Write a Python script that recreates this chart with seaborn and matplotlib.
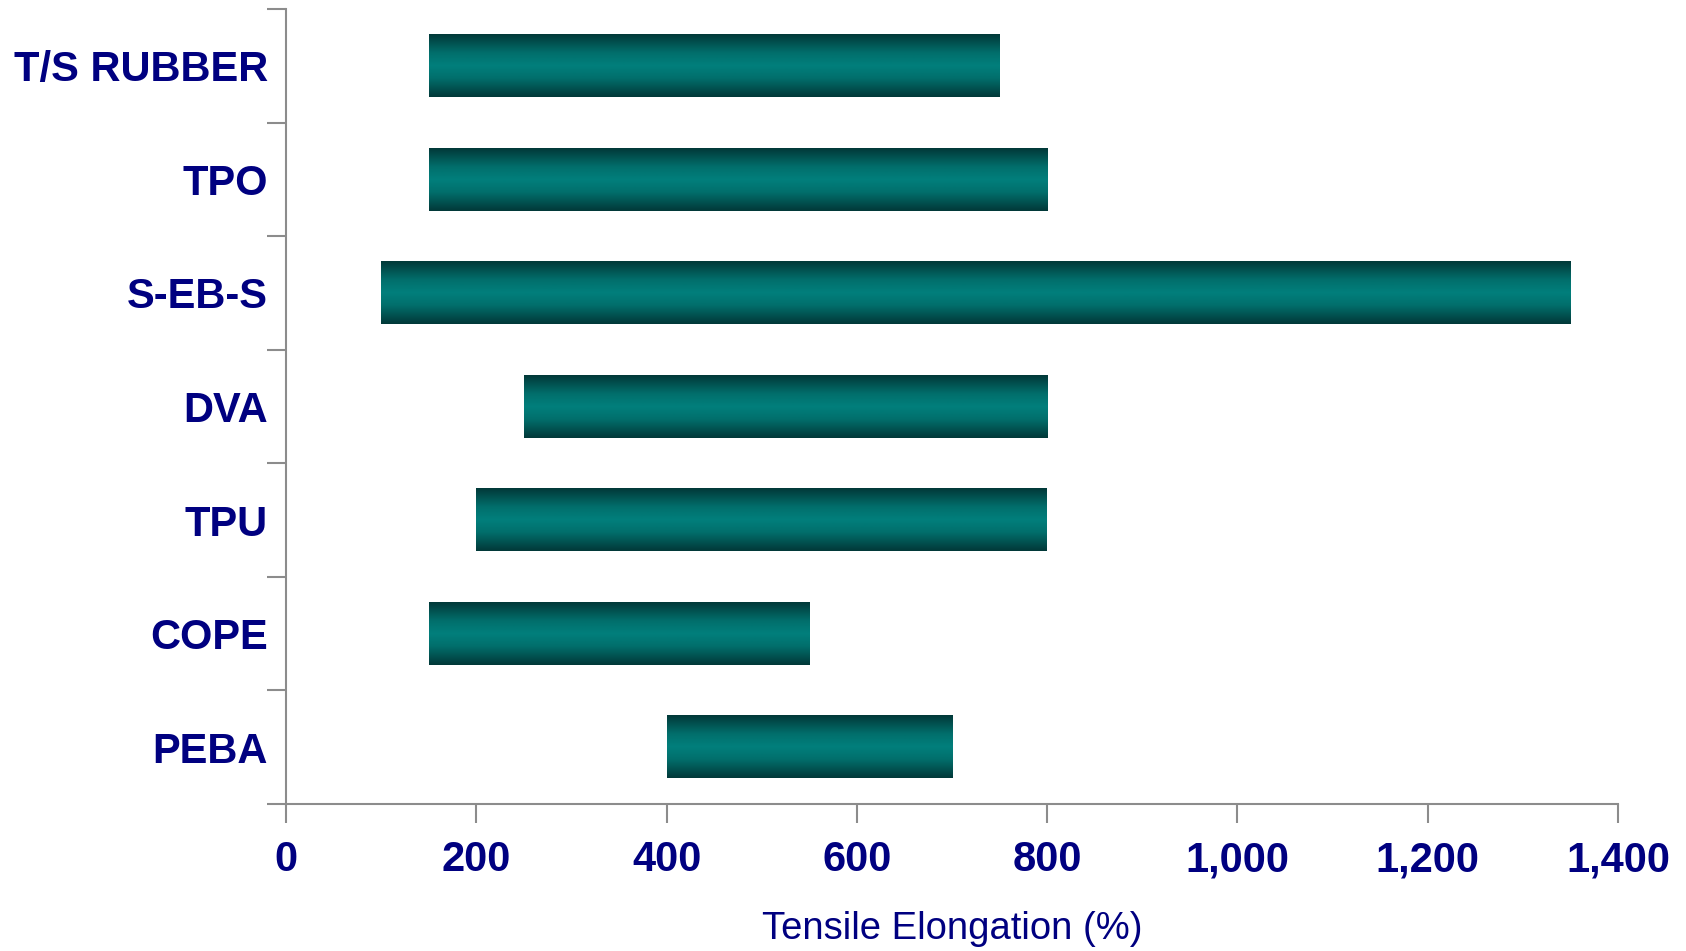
import numpy as np
import pandas as pd
import matplotlib
matplotlib.use("Agg")
import matplotlib.pyplot as plt
import seaborn as sns
from matplotlib.colors import LinearSegmentedColormap

categories = ["T/S RUBBER", "TPO", "S-EB-S", "DVA", "TPU", "COPE", "PEBA"]
low_vals = [150, 150, 100, 250, 200, 150, 400]
high_vals = [750, 800, 1350, 800, 800, 550, 700]
x_ticks = [0, 200, 400, 600, 800, 1000, 1200, 1400]
x_label = "Tensile Elongation (%)"

sns.set_theme(style="white")
plt.rcParams["font.family"] = ["Liberation Sans", "DejaVu Sans"]

navy = "#000080"
spine_gray = "#8c8c8c"

df = pd.DataFrame({"cat": categories,
                   "low": low_vals,
                   "span": np.array(high_vals) - np.array(low_vals)})

fig = plt.figure(figsize=(16.86, 9.51), dpi=100)
ax = fig.add_axes([286 / 1686, 1 - 804 / 951, (1618 - 286) / 1686, (804 - 9) / 951])

sns.barplot(data=df, x="span", y="cat", orient="h", ax=ax, width=0.55,
            color="#007f7c", linewidth=0, saturation=1)

cmap = LinearSegmentedColormap.from_list(
    "tube", [(0.0, "#023838"), (0.3, "#016f6c"), (0.5, "#017f7c"),
             (0.7, "#016f6c"), (1.0, "#023838")])
grad = np.linspace(0, 1, 256).reshape(-1, 1)

for patch, lo in zip(ax.patches, df["low"]):
    patch.set_x(lo)
    x0 = patch.get_x()
    w = patch.get_width()
    y0 = patch.get_y()
    h = patch.get_height()
    patch.set_alpha(0)
    ax.imshow(grad, cmap=cmap, aspect="auto", interpolation="bilinear",
              extent=[x0, x0 + w, y0 + h, y0], zorder=2)

ax.set_xlim(0, 1400)
ax.set_ylim(len(categories) - 0.5, -0.5)

ax.set_xticks(x_ticks)
ax.set_xticklabels([f"{v:,}" for v in x_ticks], fontsize=30, fontweight="bold", color=navy)
ax.set_yticks(range(len(categories)))
ax.set_yticklabels(categories, fontsize=30, fontweight="bold", color=navy)
ax.set_yticks(np.arange(-0.5, len(categories), 1.0), minor=True)

ax.tick_params(axis="y", which="major", length=0, pad=13)
ax.tick_params(axis="y", which="minor", length=14, width=1.5, color=spine_gray, left=True)
ax.tick_params(axis="x", which="major", length=14, width=1.5, color=spine_gray, bottom=True, pad=12)

ax.set_xlabel(x_label, fontsize=27.5, color=navy, labelpad=22)
ax.set_ylabel("")

for side in ["top", "right"]:
    ax.spines[side].set_visible(False)
for side in ["left", "bottom"]:
    ax.spines[side].set_color(spine_gray)
    ax.spines[side].set_linewidth(1.5)

fig.savefig("out.png", dpi=100, facecolor="white")
